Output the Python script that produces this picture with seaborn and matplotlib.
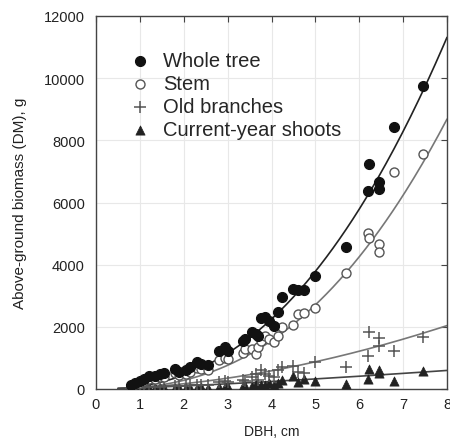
import numpy as np
import pandas as pd
import matplotlib
matplotlib.use("Agg")
import matplotlib.pyplot as plt
import seaborn as sns

# Tree diameter at breast height (cm) and above-ground dry mass (g) per component
dbh = [0.80, 0.90, 1.00, 1.10, 1.20, 1.35, 1.45, 1.55, 1.80, 1.90,
       2.05, 2.15, 2.30, 2.40, 2.55, 2.80, 2.95, 3.00, 3.35, 3.40,
       3.55, 3.65, 3.70, 3.75, 3.85, 3.95, 4.05, 4.15, 4.25, 4.50,
       4.60, 4.75, 5.00, 5.70, 6.20, 6.22, 6.44, 6.46, 6.80, 7.45]
whole_tree = [140, 200, 260, 330, 430, 410, 480, 520, 640, 560,
              600, 720, 860, 820, 780, 1230, 1340, 1230, 1560, 1620,
              1820, 1760, 1700, 2270, 2330, 2200, 2030, 2480, 2970, 3230,
              3200, 3170, 3620, 4570, 6360, 7250, 6650, 6420, 8420, 9750]
stem = [110, 160, 200, 260, 330, 320, 380, 400, 500, 440,
        470, 560, 680, 640, 600, 920, 1000, 960, 1150, 1280,
        1300, 1120, 1340, 1550, 1710, 1600, 1500, 1690, 1980, 2050,
        2400, 2440, 2590, 3740, 5030, 4870, 4650, 4400, 6970, 7570]
old_branches = [25, 30, 45, 50, 70, 60, 75, 85, 100, 90,
                95, 120, 140, 130, 140, 240, 260, 210, 300, 260,
                400, 480, 300, 600, 480, 420, 400, 600, 700, 750,
                560, 500, 860, 700, 1070, 1820, 1390, 1630, 1230, 1660]
shoots = [10, 12, 15, 18, 25, 25, 30, 30, 40, 35,
          35, 45, 45, 50, 45, 70, 80, 60, 100, 90,
          110, 160, 80, 120, 140, 180, 130, 190, 290, 430,
          240, 320, 260, 160, 320, 640, 620, 500, 260, 590]

labels = ["Whole tree", "Stem", "Old branches", "Current-year shoots"]
# Allometric fits, mass = a * dbh^b, one pair per component
fit_a = [89.0, 50.0, 48.3, 40.0]
fit_b = [2.33, 2.48, 1.80, 1.30]
x_ticks = [0, 1, 2, 3, 4, 5, 6, 7, 8]
y_ticks = [0, 2000, 4000, 6000, 8000, 10000, 12000]

df = pd.DataFrame({"dbh": dbh, "Whole tree": whole_tree, "Stem": stem,
                   "Old branches": old_branches,
                   "Current-year shoots": shoots})
long = df.melt(id_vars="dbh", var_name="part", value_name="mass")

sns.set_theme(style="white")
plt.rcParams["font.family"] = ["Liberation Sans", "DejaVu Sans"]

fig = plt.figure(figsize=(4.5, 4.39), dpi=100)
ax = fig.add_axes([96 / 450, 1 - 390 / 439, 351 / 450, 373 / 439])

styles = {
    "Whole tree": dict(marker="o", s=52, color="#111111", edgecolor="#111111", linewidth=0.8),
    "Stem": dict(marker="o", s=42, color="white", edgecolor="#555555", linewidth=1.0),
    "Old branches": dict(marker="+", s=80, color="#555555", linewidth=1.1),
    "Current-year shoots": dict(marker="^", s=44, color="#222222", edgecolor="#222222", linewidth=0.5),
}
line_colors = {"Whole tree": "#222222", "Stem": "#777777",
               "Old branches": "#777777", "Current-year shoots": "#444444"}

grid = np.linspace(0.5, 8.0, 200)
for part, a, b in zip(labels, fit_a, fit_b):
    fit = pd.DataFrame({"dbh": grid, "mass": a * grid ** b})
    sns.lineplot(data=fit, x="dbh", y="mass", ax=ax, color=line_colors[part],
                 linewidth=1.2, zorder=2)

for part in labels[::-1]:
    sub = long[long["part"] == part]
    sns.scatterplot(data=sub, x="dbh", y="mass", ax=ax, label=part,
                    zorder=3, **styles[part])

ax.set_xlim(0, 8)
ax.set_ylim(0, 12000)
ax.set_xticks(x_ticks)
ax.set_yticks(y_ticks)
ax.grid(True, color="#e8e8e8", linewidth=0.8)
ax.tick_params(direction="in", length=4, width=0.8, color="#444444",
               top=True, right=True, labelsize=10.5, labelcolor="#222222")
ax.tick_params(axis="x", pad=6)
ax.tick_params(axis="y", pad=8)
for sp in ax.spines.values():
    sp.set_color("#444444")
    sp.set_linewidth(1.0)

ax.set_xlabel("DBH, cm", fontsize=10, color="#222222", labelpad=9)
ax.set_ylabel("Above-ground biomass (DM), g", fontsize=11, color="#222222", labelpad=12)

handles, lbls = ax.get_legend_handles_labels()
order = [lbls.index(l) for l in labels]
ax.legend([handles[i] for i in order], [lbls[i] for i in order],
          loc="upper left", bbox_to_anchor=(0.067, 0.928), frameon=False,
          fontsize=14.5, handletextpad=0.55, labelspacing=0.2,
          borderaxespad=0, handlelength=1.2)

fig.savefig("out.png", dpi=100)
